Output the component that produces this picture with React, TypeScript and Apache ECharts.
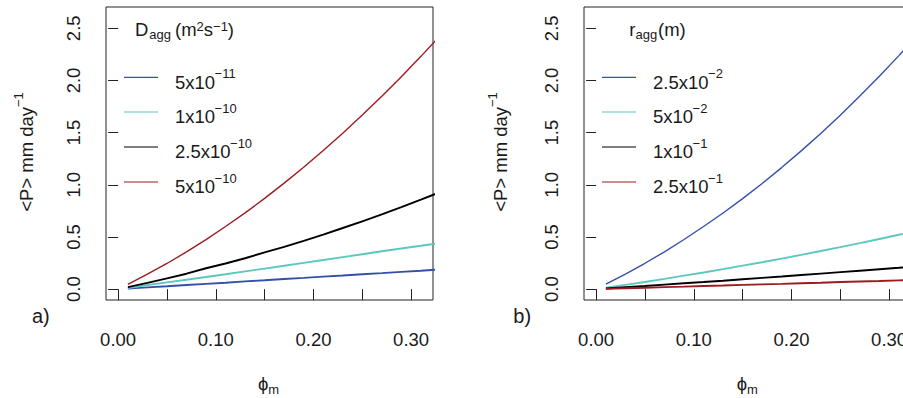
import React, { useEffect, useRef } from "react";
import * as echarts from "echarts";

// ---------- data ----------
const phiM = [0.01, 0.03, 0.05, 0.07, 0.09, 0.11, 0.13, 0.15, 0.17, 0.19, 0.21, 0.23, 0.25, 0.27, 0.29, 0.31, 0.33];

// panel a) D_agg
const aLabels = ["5x10", "1x10", "2.5x10", "5x10"];
const aExps = ["\u221211", "\u221210", "\u221210", "\u221210"];
const aD5e11 = [0.005, 0.017, 0.028, 0.040, 0.051, 0.062, 0.074, 0.085, 0.097, 0.108, 0.120, 0.131, 0.143, 0.154, 0.166, 0.177, 0.189];
const aD1e10 = [0.010, 0.040, 0.065, 0.090, 0.117, 0.143, 0.170, 0.197, 0.224, 0.252, 0.279, 0.307, 0.335, 0.363, 0.390, 0.416, 0.443];
const aD25e10 = [0.020, 0.060, 0.103, 0.148, 0.200, 0.246, 0.296, 0.352, 0.405, 0.463, 0.523, 0.586, 0.650, 0.717, 0.786, 0.858, 0.931];
const aD5e10 = [0.046, 0.143, 0.246, 0.357, 0.475, 0.600, 0.731, 0.870, 1.016, 1.168, 1.328, 1.495, 1.668, 1.849, 2.036, 2.231, 2.432];

// panel b) r_agg
const bLabels = ["2.5x10", "5x10", "1x10", "2.5x10"];
const bExps = ["\u22122", "\u22122", "\u22121", "\u22121"];
const bR25e2 = [0.048, 0.145, 0.248, 0.358, 0.476, 0.600, 0.730, 0.868, 1.013, 1.165, 1.325, 1.492, 1.667, 1.850, 2.040, 2.238, 2.443];
const bR5e2 = [0.013, 0.041, 0.069, 0.098, 0.129, 0.160, 0.192, 0.225, 0.258, 0.293, 0.329, 0.366, 0.403, 0.441, 0.481, 0.521, 0.562];
const bR1e1 = [0.006, 0.018, 0.030, 0.043, 0.056, 0.068, 0.081, 0.095, 0.108, 0.121, 0.135, 0.149, 0.163, 0.177, 0.191, 0.205, 0.220];
const bR25e1 = [0.003, 0.008, 0.014, 0.019, 0.024, 0.030, 0.035, 0.041, 0.046, 0.051, 0.057, 0.062, 0.068, 0.073, 0.078, 0.084, 0.089];

const xTicks = [0, 0.05, 0.1, 0.15, 0.2, 0.25, 0.3];
const xTickLabels = [0, 0.1, 0.2, 0.3];
const yTicks = [0, 0.5, 1, 1.5, 2, 2.5];

// ---------- styling ----------
const COLORS = ["#3450ab", "#5cc8bd", "#000000", "#9b1c1f"];
const WIDTHS_A = [1.9, 1.9, 1.9, 1.4];
const WIDTHS_B = [1.4, 1.9, 1.9, 1.9];
const FONT = '"Liberation Sans", Arial, sans-serif';
const FS = 18.5;
const FS_S = 13;
const TXT = "#1a1a1a";
const XMIN = -0.0124, XMAX = 0.3224;
const YMIN = -0.104, YMAX = 2.704;

let measureCtx: CanvasRenderingContext2D | null = null;
function tw(s: string, fs: number): number {
  if (!measureCtx) measureCtx = document.createElement("canvas").getContext("2d");
  measureCtx!.font = `${fs}px ${FONT}`;
  return measureCtx!.measureText(s).width;
}
function T(x: number, base: number, s: string, fs: number): any {
  return {
    type: "text",
    x,
    y: base - 0.35 * fs,
    style: { text: s, fontSize: fs, fontFamily: FONT, fill: TXT, align: "left", verticalAlign: "middle" },
    silent: true,
  };
}

function legend(left: number, titleEls: any[], labels: string[], exps: string[]): any[] {
  const els: any[] = [...titleEls];
  const ys = [77.3, 112, 147, 182];
  ys.forEach((y, i) => {
    els.push({
      type: "line",
      shape: { x1: left + 18, y1: y, x2: left + 52, y2: y },
      style: { stroke: COLORS[i], lineWidth: 1.2 },
      silent: true,
    });
    const lx = left + 69;
    els.push(T(lx, y + 11.3, labels[i], FS));
    els.push(T(lx + tw(labels[i], FS) - 0.5, y + 1.2, exps[i], FS_S));
  });
  return els;
}

function yTitle(cx: number): any {
  const main = "<P> mm day";
  const wMain = tw(main, FS);
  const wSup = tw("\u22121", FS_S);
  const total = wMain + wSup;
  const cy = 152;
  return {
    type: "group",
    x: cx,
    y: cy,
    rotation: Math.PI / 2,
    children: [
      { type: "text", x: -total / 2, y: 0, style: { text: main, fontSize: FS, fontFamily: FONT, fill: TXT, align: "left", verticalAlign: "middle" } },
      { type: "text", x: -total / 2 + wMain, y: -7.5, style: { text: "\u22121", fontSize: FS_S, fontFamily: FONT, fill: TXT, align: "left", verticalAlign: "middle" } },
    ],
    silent: true,
  };
}

function xTitle(x: number): any[] {
  const w = tw("\u03d5", FS);
  return [T(x, 390, "\u03d5", FS), T(x + w, 394, "m", FS_S)];
}

function buildOption(): any {
  // legend titles
  const ta: any[] = [];
  {
    let x = 135;
    ta.push(T(x, 36, "D", FS));
    x += tw("D", FS) + 1;
    ta.push(T(x, 39.5, "agg", FS_S));
    x = 175;
    ta.push(T(x, 36, "(m", FS));
    x += tw("(m", FS);
    ta.push(T(x, 31, "2", FS_S));
    x += tw("2", FS_S);
    ta.push(T(x, 36, "s", FS));
    x += tw("s", FS);
    ta.push(T(x, 31, "\u22121", FS_S));
    x += tw("\u22121", FS_S);
    ta.push(T(x, 36, ")", FS));
  }
  const tb: any[] = [];
  {
    let x = 629.3;
    tb.push(T(x, 36, "r", FS));
    x += tw("r", FS);
    tb.push(T(x, 39.5, "agg", FS_S));
    tb.push(T(658, 36, "(m)", FS));
  }

  const graphic: any[] = [
    ...legend(106, ta, aLabels, aExps),
    ...legend(584, tb, bLabels, bExps),
    yTitle(26),
    yTitle(500),
    ...xTitle(258),
    ...xTitle(736.7),
    T(32, 323, "a)", 20),
    T(513.3, 323, "b)", 20),
  ];

  const gridBase = {
    top: 7,
    width: 327,
    height: 293,
    show: true,
    borderColor: "#222",
    borderWidth: 1,
    backgroundColor: "transparent",
    containLabel: false,
    outerBoundsMode: "none",
  };

  const xAxisFor = (gi: number) => ({
    type: "value",
    gridIndex: gi,
    min: XMIN,
    max: XMAX,
    offset: 2,
    axisLine: { show: false },
    splitLine: { show: false },
    axisTick: { show: true, length: 11, lineStyle: { color: "#222", width: 1 }, customValues: xTicks },
    axisLabel: {
      customValues: xTickLabels,
      formatter: (v: number) => v.toFixed(2),
      fontSize: FS,
      fontFamily: FONT,
      color: TXT,
      margin: 28,
      hideOverlap: false,
    },
  });
  const yAxisFor = (gi: number) => ({
    type: "value",
    gridIndex: gi,
    min: YMIN,
    max: YMAX,
    axisLine: { show: false },
    splitLine: { show: false },
    axisTick: { show: true, length: 10, lineStyle: { color: "#222", width: 1 }, customValues: yTicks },
    axisLabel: {
      customValues: yTicks,
      formatter: (v: number) => v.toFixed(1),
      rotate: 90,
      fontSize: FS,
      fontFamily: FONT,
      color: TXT,
      margin: 23,
      hideOverlap: false,
    },
  });

  const mk = (gi: number, ys: number[], i: number, w: number) => ({
    type: "line",
    xAxisIndex: gi,
    yAxisIndex: gi,
    data: phiM.map((x, k) => [x, ys[k]]),
    showSymbol: false,
    symbol: "none",
    clip: true,
    lineStyle: { color: COLORS[i], width: w },
    silent: true,
    z: 3,
  });

  return {
    animation: false,
    backgroundColor: "#ffffff",
    grid: [
      { ...gridBase, left: 106 },
      { ...gridBase, left: 584 },
    ],
    xAxis: [xAxisFor(0), xAxisFor(1)],
    yAxis: [yAxisFor(0), yAxisFor(1)],
    series: [
      mk(0, aD5e11, 0, WIDTHS_A[0]),
      mk(0, aD1e10, 1, WIDTHS_A[1]),
      mk(0, aD25e10, 2, WIDTHS_A[2]),
      mk(0, aD5e10, 3, WIDTHS_A[3]),
      mk(1, bR25e2, 0, WIDTHS_B[0]),
      mk(1, bR5e2, 1, WIDTHS_B[1]),
      mk(1, bR1e1, 2, WIDTHS_B[2]),
      mk(1, bR25e1, 3, WIDTHS_B[3]),
    ],
    graphic,
  };
}

export default function App() {
  const ref = useRef<HTMLDivElement>(null);
  useEffect(() => {
    document.body.style.margin = "0";
    const chart = echarts.init(ref.current!, null, { renderer: "svg" });
    chart.setOption(buildOption());
    return () => chart.dispose();
  }, []);
  return <div ref={ref} style={{ width: 903, height: 398 }} />;
}
